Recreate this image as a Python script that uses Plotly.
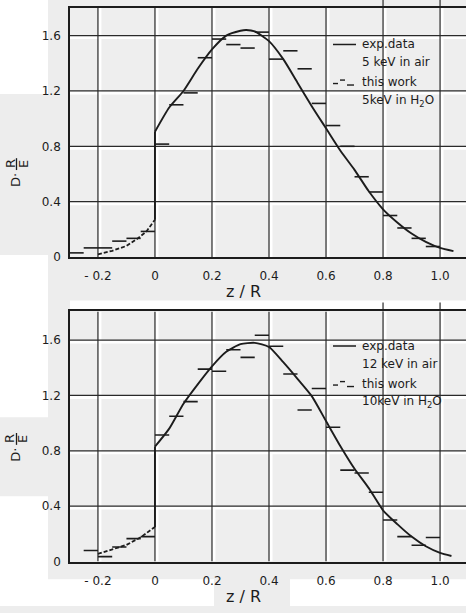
import plotly.graph_objects as go

W, H = 466, 613

# Histogram bin width of the simulated distributions (in z/R)
BIN_W = 0.05

# ---------------- upper panel: 5 keV ----------------
top_exp_neg_z = [-0.2, -0.15, -0.1, -0.06, -0.03, 0.0]
top_exp_neg_v = [0.02, 0.045, 0.08, 0.135, 0.185, 0.27]
top_exp_z = [0.0, 0.0, 0.05, 0.1, 0.15, 0.2, 0.25, 0.3, 0.32, 0.35, 0.4, 0.45,
             0.5, 0.55, 0.6, 0.65, 0.7, 0.75, 0.8, 0.85, 0.9, 0.95, 1.0, 1.047]
top_exp_v = [0.27, 0.905, 1.08, 1.2, 1.36, 1.5, 1.6, 1.635, 1.64, 1.63, 1.56, 1.43,
             1.26, 1.09, 0.93, 0.77, 0.63, 0.475, 0.345, 0.25, 0.17, 0.11, 0.066, 0.043]
top_bin_start = -0.3
top_bin_v = [0.03, 0.066, 0.066, 0.115, 0.135, 0.185,
             0.816, 1.10, 1.186, 1.44, 1.575, 1.535, 1.51, 1.625, 1.43, 1.49,
             1.36, 1.11, 0.95, 0.80, 0.58, 0.47, 0.30, 0.21, 0.135, 0.076]
top_legend = ["exp.data", "5 keV in air", "this work", "5keV in H<sub>2</sub>O"]

# ---------------- lower panel: 12 keV / 10 keV ----------------
bot_exp_neg_z = [-0.2, -0.15, -0.1, -0.05, 0.0]
bot_exp_neg_v = [0.055, 0.085, 0.12, 0.175, 0.25]
bot_exp_z = [0.0, 0.0, 0.05, 0.1, 0.15, 0.2, 0.25, 0.3, 0.35, 0.4, 0.45, 0.5,
             0.55, 0.6, 0.65, 0.7, 0.75, 0.8, 0.85, 0.9, 0.95, 1.0, 1.04]
bot_exp_v = [0.25, 0.83, 0.96, 1.14, 1.28, 1.41, 1.515, 1.57, 1.58, 1.55, 1.44, 1.32,
             1.195, 1.015, 0.835, 0.67, 0.53, 0.37, 0.27, 0.18, 0.11, 0.062, 0.04]
bot_bin_start = -0.25
bot_bin_v = [0.08, 0.035, 0.105, 0.165, 0.18,
             0.914, 1.05, 1.155, 1.39, 1.375, 1.53, 1.475, 1.635, 1.555, 1.355,
             1.095, 1.25, 0.97, 0.66, 0.64, 0.50, 0.30, 0.18, 0.118, 0.173]
bot_legend = ["exp.data", "12 keV in air", "this work", "10keV in H<sub>2</sub>O"]

x_ticks = [-0.2, 0.0, 0.2, 0.4, 0.6, 0.8, 1.0]
x_ticktext = ["- 0.2", "0", "0.2", "0.4", "0.6", "0.8", "1.0"]
y_ticks = [0.0, 0.4, 0.8, 1.2, 1.6]
y_ticktext = ["0", "0.4", "0.8", "1.2", "1.6"]

X_RANGE = [-0.298, 1.091]
INK = "#1c1c1c"
PAPER_GRAY = "#ededed"
PLOT_GRAY = "#eeeeee"
FONT = "DejaVu Sans"


def px(x):
    return x / W


def py(y):
    return 1 - y / H


def steps(start, values):
    xs, ys = [], []
    for i, v in enumerate(values):
        lo = start + i * BIN_W
        xs += [lo, lo + BIN_W, None]
        ys += [v, v, None]
    return xs, ys


fig = go.Figure()

panels = [
    dict(xa="x", ya="y", top=8, bottom=260, ymax=1.8,
         neg=(top_exp_neg_z, top_exp_neg_v), pos=(top_exp_z, top_exp_v),
         bins=(top_bin_start, top_bin_v), legend=top_legend, leg_y=45,
         title_y=295, lab_y=166),
    dict(xa="x2", ya="y2", top=315, bottom=568, ymax=1.807,
         neg=(bot_exp_neg_z, bot_exp_neg_v), pos=(bot_exp_z, bot_exp_v),
         bins=(bot_bin_start, bot_bin_v), legend=bot_legend, leg_y=350,
         title_y=603, lab_y=444),
]

shapes = []
annotations = []

# Patchy page background (white areas over the gray paper)
for x0, y0, x1, y1 in [(0, 0, 48, 95), (0, 258, 48, 422), (0, 502, 48, 613),
                       (48, 586, 214, 613), (290, 586, 466, 613),
                       (70, 304, 466, 313)]:
    shapes.append(dict(type="rect", xref="paper", yref="paper", layer="below",
                       x0=px(x0), x1=px(x1), y0=py(y1), y1=py(y0),
                       fillcolor="white", line_width=0))

for p in panels:
    xa, ya = p["xa"], p["ya"]
    pz, pv = p["pos"]
    # curve in front of the entrance surface (dashed)
    fig.add_trace(go.Scatter(x=p["neg"][0], y=p["neg"][1], mode="lines",
                             line=dict(color=INK, width=1.8, dash="4px,2px"),
                             xaxis=xa, yaxis=ya, showlegend=False))
    # jump at the surface z = 0
    fig.add_trace(go.Scatter(x=pz[:2], y=pv[:2], mode="lines",
                             line=dict(color=INK, width=1.9),
                             xaxis=xa, yaxis=ya, showlegend=False))
    # curve inside the target
    fig.add_trace(go.Scatter(x=pz[1:], y=pv[1:], mode="lines",
                             line=dict(color=INK, width=1.9, shape="spline", smoothing=0.6),
                             xaxis=xa, yaxis=ya, showlegend=False))
    hx, hy = steps(*p["bins"])
    fig.add_trace(go.Scatter(x=hx, y=hy, mode="lines",
                             line=dict(color=INK, width=1.6),
                             xaxis=xa, yaxis=ya, showlegend=False))

    dx = 2.0 / 285.0
    dy = 2.0 / 140.0
    # grid: white halo then dark line
    for xv in x_ticks:
        shapes.append(dict(type="line", xref=xa, yref=ya, layer="below",
                           x0=xv + dx, x1=xv + dx, y0=0, y1=p["ymax"],
                           line=dict(color="white", width=3)))
    for yv in y_ticks[1:]:
        shapes.append(dict(type="line", xref=xa, yref=ya, layer="below",
                           x0=X_RANGE[0], x1=X_RANGE[1], y0=yv - dy, y1=yv - dy,
                           line=dict(color="white", width=3)))
    for xv in x_ticks:
        shapes.append(dict(type="line", xref=xa, yref=ya, layer="below",
                           x0=xv, x1=xv, y0=0, y1=p["ymax"],
                           line=dict(color="#2a2a2a", width=1.2)))
    for yv in y_ticks[1:]:
        shapes.append(dict(type="line", xref=xa, yref=ya, layer="below",
                           x0=X_RANGE[0], x1=X_RANGE[1], y0=yv, y1=yv,
                           line=dict(color="#2a2a2a", width=1.2)))
    # short ticks above the frame
    for xv in [0.8, 1.0]:
        shapes.append(dict(type="line", xref=xa, yref="paper", layer="below",
                           x0=xv, x1=xv, y0=py(p["top"]), y1=py(p["top"] - 9),
                           line=dict(color="#2a2a2a", width=1.2)))

    # legend block
    ly = p["leg_y"]
    shapes.append(dict(type="rect", xref="paper", yref="paper", layer="below",
                       x0=px(328), x1=px(467), y0=py(ly + 70), y1=py(ly - 6),
                       fillcolor=PLOT_GRAY, line_width=0))
    shapes.append(dict(type="line", xref="paper", yref="paper",
                       x0=px(333), x1=px(356), y0=py(ly), y1=py(ly),
                       line=dict(color=INK, width=1.5)))
    sy = ly + 38
    for a, b, off in [(333, 338, 1.5), (340, 345, -2.0), (347, 354, 3.0)]:
        shapes.append(dict(type="line", xref="paper", yref="paper",
                           x0=px(a), x1=px(b), y0=py(sy + off), y1=py(sy + off),
                           line=dict(color=INK, width=1.4)))
    for k, txt in enumerate(p["legend"]):
        annotations.append(dict(xref="paper", yref="paper", x=px(360),
                                y=py(ly + [0, 18, 38, 57][k]), text=txt,
                                showarrow=False, xanchor="left", yanchor="middle",
                                font=dict(family=FONT, size=12, color=INK)))

    # axis title
    annotations.append(dict(xref="paper", yref="paper", x=px(243), y=py(p["title_y"]),
                            text="z / R", showarrow=False, xanchor="center",
                            yanchor="middle",
                            font=dict(family=FONT, size=16, color=INK)))
    # vertical label: D · R/E
    cy = p["lab_y"]
    annotations.append(dict(xref="paper", yref="paper", x=px(10), y=py(cy),
                            text="R", textangle=-90, showarrow=False,
                            xanchor="center", yanchor="middle",
                            font=dict(family=FONT, size=13, color=INK)))
    annotations.append(dict(xref="paper", yref="paper", x=px(23), y=py(cy),
                            text="E", textangle=-90, showarrow=False,
                            xanchor="center", yanchor="middle",
                            font=dict(family=FONT, size=13, color=INK)))
    shapes.append(dict(type="line", xref="paper", yref="paper",
                       x0=px(16.5), x1=px(16.5), y0=py(cy + 6), y1=py(cy - 6),
                       line=dict(color=INK, width=1.3)))
    annotations.append(dict(xref="paper", yref="paper", x=px(16), y=py(cy + 16),
                            text="D·", textangle=-90, showarrow=False,
                            xanchor="center", yanchor="middle",
                            font=dict(family=FONT, size=13, color=INK)))


def xaxis(anchor):
    return dict(domain=[px(70), 1.0], range=X_RANGE, anchor=anchor,
                tickvals=x_ticks, ticktext=x_ticktext, ticks="",
                ticklabelstandoff=7, showgrid=False, zeroline=False,
                showline=True, mirror=True, linecolor=INK, linewidth=1.6,
                tickfont=dict(family=FONT, size=12, color=INK))


def yaxis(anchor, top, bottom, ymax):
    return dict(domain=[py(bottom), py(top)], range=[0, ymax], anchor=anchor,
                tickvals=y_ticks, ticktext=y_ticktext, ticks="",
                ticklabelstandoff=5, showgrid=False, zeroline=False,
                showline=True, mirror=False, linecolor=INK, linewidth=1.6,
                tickfont=dict(family=FONT, size=12, color=INK))


fig.update_layout(
    width=W, height=H,
    margin=dict(l=0, r=0, t=0, b=0),
    paper_bgcolor=PAPER_GRAY,
    plot_bgcolor=PLOT_GRAY,
    showlegend=False,
    xaxis=xaxis("y"),
    yaxis=yaxis("x", 8, 260, 1.8),
    xaxis2=xaxis("y2"),
    yaxis2=yaxis("x2", 315, 568, 1.807),
    shapes=shapes,
    annotations=annotations,
)

fig.write_html("out.html")
